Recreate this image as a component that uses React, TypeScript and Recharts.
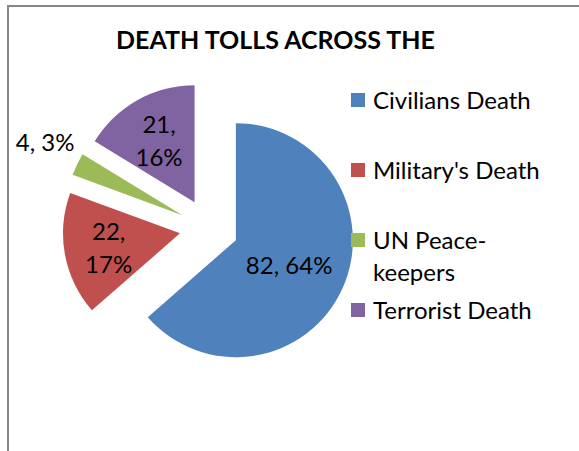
import { PieChart, Pie, Cell, Legend } from 'recharts'

// 数据
const categories = ['Civilians Death', "Military's Death", 'UN Peace-keepers', 'Terrorist Death']
const deaths = [82, 22, 4, 21]
const colors = ['#4F81BD', '#C0504D', '#9BBB59', '#8064A2']

const W = 579
const H = 451
const CX = 209
const CY = 228
const R = 117
const EXPLODE = 29.5
const FONT = 'Lato, "Open Sans", sans-serif'
const RADIAN = Math.PI / 180

const total = deaths.reduce((s, v) => s + v, 0)

// 每个扇区独立成一个 Pie，以实现"分离"效果
const slices = deaths.map((value, i) => {
  const before = deaths.slice(0, i).reduce((s, v) => s + v, 0)
  const startAngle = 90 - (before / total) * 360
  const endAngle = 90 - ((before + value) / total) * 360
  const mid = (startAngle + endAngle) / 2
  return {
    name: categories[i],
    value,
    color: colors[i],
    pct: Math.round((value / total) * 100),
    startAngle,
    endAngle,
    cx: CX + EXPLODE * Math.cos(mid * RADIAN),
    cy: CY - EXPLODE * Math.sin(mid * RADIAN),
  }
})

function makeLabel(slice: (typeof slices)[number]) {
  return (props: any) => {
    const { cx, cy, midAngle, outerRadius } = props
    const span = Math.abs(slice.endAngle - slice.startAngle)
    const outside = slice.pct < 5
    const wrapped = !outside && span < 90
    const r = outside ? outerRadius + 40 : outerRadius * (wrapped ? 0.62 : 0.5)
    const x = cx + r * Math.cos(-midAngle * RADIAN)
    const y = cy + r * Math.sin(-midAngle * RADIAN)
    const common = {
      x: outside ? x + 4 : x,
      textAnchor: 'middle' as const,
      dominantBaseline: 'central' as const,
      fill: '#000',
      fontSize: 24,
      fontFamily: FONT,
    }
    if (wrapped) {
      return (
        <g>
          <text {...common} y={y - 16}>{`${slice.value},`}</text>
          <text {...common} y={y + 17}>{`${slice.pct}%`}</text>
        </g>
      )
    }
    return <text {...common} y={outside ? y - 5 : y}>{`${slice.value}, ${slice.pct}%`}</text>
  }
}

// 图例按原始类别顺序排列
function LegendContent({ payload }: any) {
  const items = [...(payload || [])].sort(
    (a: any, b: any) => categories.indexOf(a.value) - categories.indexOf(b.value),
  )
  return (
    <div style={{ fontFamily: FONT, fontSize: 24, lineHeight: '32px', color: '#000' }}>
      {items.map((p: any) => (
        <div key={p.value} style={{ display: 'flex', alignItems: 'flex-start', height: 70 }}>
          <span
            style={{
              width: 14,
              height: 14,
              background: p.color,
              marginTop: 9,
              marginRight: 8,
              flex: 'none',
            }}
          />
          <span style={{ width: 178 }}>{p.value}</span>
        </div>
      ))}
    </div>
  )
}

export default function App() {
  return (
    <div
      style={{
        position: 'absolute',
        left: 0,
        top: 0,
        width: W,
        height: H,
        overflow: 'hidden',
        background: '#fff',
      }}
    >
      <div
        style={{
          position: 'absolute',
          left: 7,
          top: 5,
          width: W + 20,
          height: H + 20,
          borderLeft: '2px solid #878787',
          borderTop: '2px solid #878787',
        }}
      />
      <div
        style={{
          position: 'absolute',
          left: 0,
          top: 21,
          width: 551,
          textAlign: 'center',
          fontFamily: FONT,
          fontWeight: 700,
          fontSize: 25,
          lineHeight: '36px',
          color: '#000',
        }}
      >
        DEATH TOLLS ACROSS THE
      </div>
      <div style={{ position: 'absolute', left: 0, top: 0 }}>
        <PieChart width={W} height={H} margin={{ top: 0, right: 0, bottom: 0, left: 0 }}>
          {slices.map((s) => (
            <Pie
              key={s.name}
              data={[s]}
              dataKey="value"
              nameKey="name"
              cx={s.cx}
              cy={s.cy}
              outerRadius={R}
              startAngle={s.startAngle}
              endAngle={s.endAngle}
              stroke="none"
              label={makeLabel(s)}
              labelLine={false}
              isAnimationActive={false}
            >
              <Cell fill={s.color} />
            </Pie>
          ))}
          <Legend
            layout="vertical"
            itemSorter={null}
            content={<LegendContent />}
            wrapperStyle={{ left: 351, top: 84, width: 220 }}
          />
        </PieChart>
      </div>
    </div>
  )
}
